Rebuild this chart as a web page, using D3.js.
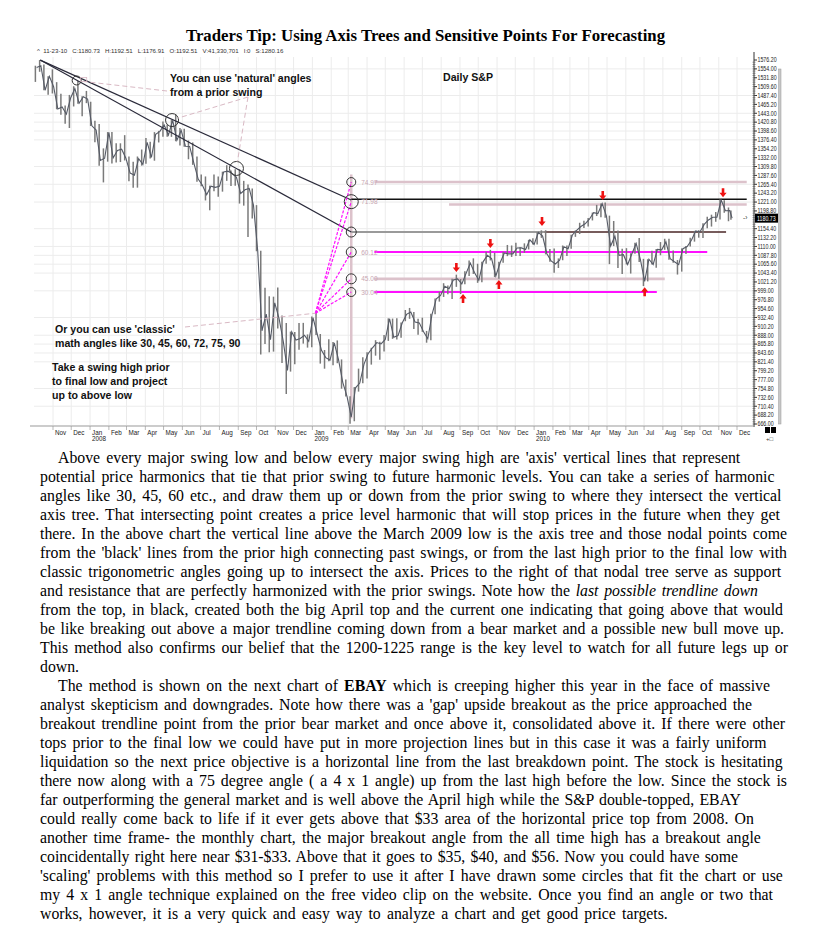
<!DOCTYPE html>
<html><head><meta charset="utf-8">
<script src="https://cdn.jsdelivr.net/npm/d3@7"></script>
<style>body{margin:0;background:#fff}</style>
</head><body><svg id="c" width="824" height="937"></svg>
<script>
// ---------------- DATA ----------------
const titleText = "Traders Tip: Using Axis Trees and Sensitive Points For Forecasting";
const headerText = "11-23-10   C:1180.73   H:1192.51   L:1176.91   O:1192.51   V:41,330,701   I:0   S:1280.16";
const lastPriceLabel = "1180.73";
const lastPrice = 1180.73;

// weekly S&P 500 closes / highs / lows, Oct 2007 - Nov 23 2010
const closes = [
1557.6,1561.8,1500.6,1535.3,1509.7,1453.7,1458.7,1440.7,1481.1,1504.7,1468.0,1484.5,1478.5,
1411.6,1401.0,1325.2,1330.6,1395.4,1331.3,1350.0,1353.1,1330.6,1293.4,1288.1,1329.5,1315.2,
1370.4,1332.8,1390.3,1397.8,1413.9,1388.3,1425.4,1375.9,1400.4,1360.7,1360.0,1317.9,1278.4,
1262.9,1239.5,1260.7,1257.8,1260.3,1296.3,1298.2,1292.2,1282.8,1242.3,1251.7,1255.1,1213.3,
1099.2,899.2,940.6,876.8,968.8,931.0,873.3,800.0,896.2,876.1,879.7,887.9,872.8,
931.8,890.4,850.1,832.0,825.9,868.6,826.8,770.1,735.1,683.4,756.6,768.5,815.9,
842.5,856.6,869.6,866.2,877.5,929.2,882.9,887.0,919.1,940.1,946.2,921.2,918.9,
896.4,879.1,940.4,979.3,987.5,1010.5,1004.1,1026.1,1028.9,1016.4,1042.7,1068.3,1044.4,
1025.2,1071.5,1087.7,1079.6,1036.2,1069.3,1093.5,1091.4,1091.5,1106.0,1106.4,1102.5,1126.5,
1115.1,1145.0,1136.0,1091.8,1073.9,1066.2,1075.5,1109.2,1104.5,1138.7,1150.0,1159.9,1166.6,
1178.1,1194.4,1192.1,1217.3,1186.7,1110.9,1135.7,1087.7,1089.4,1064.9,1091.6,1117.5,1076.8,
1022.6,1078.0,1064.9,1102.7,1101.6,1121.6,1079.3,1071.7,1064.6,1104.5,1109.6,1125.6,1148.7,
1146.2,1165.2,1176.2,1183.1,1183.3,1225.9,1199.2,1199.7,1180.7];
const highs = [
1561.9,1576.1,1564.7,1535.5,1552.8,1520.8,1492.0,1462.2,1488.9,1510.6,1523.6,1485.4,1498.9,
1471.8,1424.0,1416.0,1355.2,1396.0,1396.0,1368.0,1367.9,1388.3,1335.1,1321.7,1334.9,1352.4,
1380.9,1372.0,1395.9,1399.0,1422.7,1415.0,1426.0,1440.2,1406.3,1404.0,1375.0,1370.0,1335.0,
1290.0,1285.0,1262.0,1290.0,1285.0,1297.0,1313.2,1300.0,1303.0,1303.0,1274.0,1265.0,1255.1,
1213.3,1099.2,1006.9,985.4,984.4,1007.5,937.0,918.6,897.0,896.2,918.8,918.9,890.0,
934.7,943.9,891.0,851.0,877.9,870.8,875.0,827.5,777.0,735.1,758.3,804.5,832.9,
845.6,856.6,875.6,871.8,888.7,930.2,929.6,930.2,920.0,951.0,956.2,946.2,929.0,
931.9,898.7,941.9,979.8,996.7,1018.0,1012.6,1029.0,1039.5,1028.5,1048.2,1074.8,1080.2,
1066.7,1071.5,1096.6,1101.4,1094.0,1071.5,1097.0,1113.7,1112.4,1119.1,1107.7,1117.7,1126.5,
1130.4,1145.4,1150.4,1150.5,1103.7,1104.7,1080.0,1112.4,1112.4,1139.0,1150.0,1169.2,1174.3,
1181.4,1194.7,1213.9,1217.3,1219.8,1187.0,1173.6,1150.0,1104.0,1105.7,1093.0,1119.3,1131.2,
1079.0,1078.0,1099.1,1103.7,1120.9,1129.2,1129.2,1100.1,1076.0,1105.1,1110.9,1131.5,1148.9,
1150.6,1167.7,1184.4,1189.4,1196.1,1227.1,1225.8,1207.4,1199.7];
const lows = [
1521.4,1546.7,1500.3,1489.6,1492.5,1453.0,1439.0,1416.9,1406.1,1460.0,1467.0,1435.7,1468.3,
1411.2,1370.6,1312.0,1270.1,1322.0,1317.5,1320.0,1321.0,1325.0,1272.7,1256.9,1257.0,1312.0,
1316.5,1330.0,1324.4,1370.0,1384.5,1384.0,1384.0,1373.1,1362.5,1359.0,1328.0,1314.0,1272.0,
1260.7,1225.0,1200.4,1248.0,1234.4,1247.0,1274.0,1261.0,1262.0,1217.2,1212.0,1133.5,1180.0,
1098.0,839.8,865.8,845.3,847.0,904.9,818.7,741.0,797.0,815.7,851.4,867.0,857.0,
857.7,888.3,817.0,804.3,822.7,812.9,818.0,754.3,734.5,666.8,672.9,747.0,767.8,
779.8,814.5,836.9,826.8,847.1,873.8,878.9,877.0,881.5,923.0,929.0,903.8,888.9,
896.4,869.3,875.3,940.4,972.0,983.7,990.2,978.5,1008.9,991.0,1015.5,1036.0,1041.2,
1019.0,1020.2,1066.7,1075.0,1033.4,1029.4,1069.3,1085.7,1083.7,1086.3,1085.9,1093.9,1102.5,
1115.1,1115.1,1131.4,1090.2,1071.6,1044.5,1056.1,1075.5,1086.0,1104.5,1134.0,1141.0,1156.0,
1160.0,1175.0,1186.0,1183.0,1181.6,1065.8,1110.9,1055.9,1040.8,1064.9,1042.2,1091.6,1071.0,
1010.9,1022.6,1064.9,1056.9,1088.0,1101.6,1076.6,1069.1,1039.7,1047.0,1091.2,1110.0,1122.0,
1131.9,1131.0,1155.7,1159.7,1171.7,1177.6,1194.1,1173.0,1177.0];

const priceTicks = ["1576.20","1554.00","1531.80","1509.60","1487.40","1465.20","1443.00","1420.80","1398.60",
"1376.40","1354.20","1332.00","1309.80","1287.60","1265.40","1243.20","1221.00","1198.80","1154.40","1132.20",
"1110.00","1087.80","1065.60","1043.40","1021.20","999.00","976.80","954.60","932.40","910.20","888.00","865.80",
"843.60","821.40","799.20","777.00","754.80","732.60","710.40","688.20","666.00"];
const gridPrices = [1554,1487.4,1443,1420.8,1398.6,1376.4,1309.8,1265.4,1221,1154.4,1110,1087.8,1065.6,1043.4,999,932.4,888,865.8,843.6,821.4,754.8,710.4];

const monthLabels = ["Nov","Dec","Jan","Feb","Mar","Apr","May","Jun","Jul","Aug","Sep","Oct","Nov","Dec",
"Jan","Feb","Mar","Apr","May","Jun","Jul","Aug","Sep","Oct","Nov","Dec",
"Jan","Feb","Mar","Apr","May","Jun","Jul","Aug","Sep","Oct","Nov","Dec"];
const yearLabels = {2:"2008",14:"2009",26:"2010"};

// axis tree & trendlines (date, price)
const axisDate = "2009-03-06";
const axisTop = 1290, axisBottom = 680;
const trendStart = {d:"2007-10-11", p:1576};
const trendEnds = [1226, 1146];
const trendCircles = [{d:"2007-12-10",p:1525,r:4.5},{d:"2008-05-15",p:1426,r:6.5},{d:"2008-08-29",p:1305,r:7}];
// nodal points on axis tree
const nodes = [
  {p:1271, label:"74.97", r:4.5, fan:true},
  {p:1222, label:"71.98", r:7,   fan:true},
  {p:1146, label:"",      r:5,   fan:false},
  {p:1096, label:"60.12", r:5,   fan:true},
  {p:1029, label:"45.00", r:5,   fan:true},
  {p:996,  label:"30.04", r:4.5, fan:true}];
const fanOrigin = {d:"2009-01-06", p:943};
// horizontal harmonic levels
const levels = [
  {p:1271, from:"2009-04-13", to:"2010-12-17", kind:"pink"},
  {p:1228, from:"2009-03-06", to:"2010-12-17", kind:"black"},
  {p:1215, from:"2009-08-14", to:"2010-12-17", kind:"pink"},
  {p:1146, from:"2009-03-06", to:"2010-01-18", kind:"gray"},
  {p:1146, from:"2010-01-18", to:"2010-11-13", kind:"brown"},
  {p:1096, from:"2009-04-13", to:"2010-10-13", kind:"magenta"},
  {p:1029, from:"2009-04-13", to:"2010-08-04", kind:"pink"},
  {p:996,  from:"2009-04-13", to:"2010-07-22", kind:"magenta"}];
const downArrows = [{d:"2009-08-26",p:1056},{d:"2009-10-21",p:1116},{d:"2010-01-14",p:1171},{d:"2010-04-24",p:1236},{d:"2010-11-08",p:1243}];
const upArrows = [{d:"2009-09-06",p:981},{d:"2009-11-04",p:1016},{d:"2010-07-02",p:998}];

const notes = [
  {t:"You can use 'natural' angles", x:170, y:82},
  {t:"from a prior swing", x:170, y:96},
  {t:"Daily S&P", x:443, y:81},
  {t:"Or you can use 'classic'", x:55, y:333},
  {t:"math angles like 30, 45, 60, 72, 75, 90", x:55, y:347},
  {t:"Take a swing high prior", x:52, y:371},
  {t:"to final low and project", x:52, y:385},
  {t:"up to above low", x:52, y:399}];

const bodyLines = [
"Above every major swing low and below every major swing high are 'axis' vertical lines that represent",
"potential price harmonics that tie that prior swing to future harmonic levels. You can take a series of harmonic",
"angles like 30, 45, 60 etc., and draw them up or down from the prior swing to where they intersect the vertical",
"axis tree. That intersecting point creates a price level harmonic that will stop prices in the future when they get",
"there. In the above chart the vertical line above the March 2009 low is the axis tree and those nodal points come",
"from the 'black' lines from the prior high connecting past swings, or from the last high prior to the final low with",
"classic trigonometric angles going up to intersect the axis. Prices to the right of that nodal tree serve as support",
"and resistance that are perfectly harmonized with the prior swings. Note how the *last possible trendline down*",
"from the top, in black, created both the big April top and the current one indicating that going above that would",
"be like breaking out above a major trendline coming down from a bear market and a possible new bull move up.",
"This method also confirms our belief that the 1200-1225 range is the key level to watch for all future legs up or",
"down.",
"The method is shown on the next chart of **EBAY** which is creeping higher this year in the face of massive",
"analyst skepticism and downgrades. Note how there was a 'gap' upside breakout as the price approached the",
"breakout trendline point from the prior bear market and once above it, consolidated above it. If there were other",
"tops prior to the final low we could have put in more projection lines but in this case it was a fairly uniform",
"liquidation so the next price objective is a horizontal line from the last breakdown point. The stock is hesitating",
"there now along with a 75 degree angle ( a 4 x 1 angle) up from the last high before the low. Since the stock is",
"far outperforming the general market and is well above the April high while the S&P double-topped, EBAY",
"could really come back to life if it ever gets above that $33 area of the horizontal price top from 2008. On",
"another time frame- the monthly chart, the major breakout angle from the all time high has a breakout angle",
"coincidentally right here near $31-$33. Above that it goes to $35, $40, and $56. Now you could have some",
"'scaling' problems with this method so I prefer to use it after I have drawn some circles that fit the chart or use",
"my 4 x 1 angle technique explained on the free video clip on the website. Once you find an angle or two that",
"works, however, it is a very quick and easy way to analyze a chart and get good price targets."];
const paraStarts = [0, 12];
// right edge of each typeset line (layout)
const lineEnds = [759,787,787,781,787,787,783,758,783,784,788,0,771,752,787,767,786,787,741,784,761,738,792,773,737];

// ---------------- DRAW ----------------
const svg = d3.select("#c");
svg.append("rect").attr("width",824).attr("height",937).attr("fill","#fff");
const pd = d3.timeParse("%Y-%m-%d");
const x = d3.scaleTime().domain([new Date(2007,10,1), new Date(2010,11,1)]).range([53, 737]);
const y = d3.scaleLinear().domain([666, 1576.2]).range([424, 60]);
const SANS = "'Liberation Sans', Arial, sans-serif";
const SERIF = "'Liberation Serif', 'Times New Roman', serif";
const PL = 34, PR = 754, PT = 57, PB = 425;

// title
svg.append("text").attr("x",425.5).attr("y",41).attr("text-anchor","middle")
  .attr("font-family",SERIF).attr("font-weight","bold").attr("font-size",16.8).text(titleText);
// header
svg.append("text").attr("x",37).attr("y",53).attr("font-family",SANS).attr("font-size",6.1)
  .attr("fill","#333").attr("xml:space","preserve").text("^  " + headerText);

// grid
const g = svg.append("g");
const months = d3.timeMonth.range(new Date(2007,10,1), new Date(2011,0,1));
g.selectAll("line.vg").data(months).join("line")
  .attr("x1",d=>x(d)).attr("x2",d=>x(d)).attr("y1",PT).attr("y2",PB)
  .attr("stroke","#ececec").attr("stroke-width",1);
g.selectAll("line.hg").data(gridPrices).join("line")
  .attr("x1",PL).attr("x2",PR).attr("y1",d=>y(d)).attr("y2",d=>y(d))
  .attr("stroke","#ececec").attr("stroke-width",1);

// axis tree vertical line
const ax = x(pd(axisDate));
svg.append("line").attr("x1",ax).attr("x2",ax).attr("y1",y(axisTop)).attr("y2",y(axisBottom))
  .attr("stroke","#dcc2cb").attr("stroke-width",2.5);

// horizontal levels
const lvStyle = {pink:["#dcc2cb",2.6], black:["#111",1.6], gray:["#9a9a9a",2], brown:["#4a2626",1.6], magenta:["#ff10ff",2]};
svg.selectAll("line.lv").data(levels).join("line")
  .attr("x1",d=>x(pd(d.from))).attr("x2",d=>x(pd(d.to)))
  .attr("y1",d=>y(d.p)).attr("y2",d=>y(d.p))
  .attr("stroke",d=>lvStyle[d.kind][0]).attr("stroke-width",d=>lvStyle[d.kind][1]);

// price bars
const weekEnd = d3.timeFriday.range(new Date(2007,9,5), new Date(2010,10,27));
weekEnd[weekEnd.length-1] = new Date(2010,10,23);
const n = Math.min(weekEnd.length, closes.length);
const wk = d3.range(n).map(i=>({d:weekEnd[i], c:closes[i], h:highs[i], l:lows[i]}));
svg.append("g").selectAll("line").data(wk).join("line")
  .attr("x1",d=>x(d3.timeDay.offset(d.d,-2))).attr("x2",d=>x(d3.timeDay.offset(d.d,-2)))
  .attr("y1",d=>y(d.h)).attr("y2",d=>y(d.l))
  .attr("stroke","#7a7a7a").attr("stroke-width",1.5);
svg.append("path").datum(wk)
  .attr("d", d3.line().x(d=>x(d.d)).y(d=>y(d.c)))
  .attr("fill","none").attr("stroke","#555a66").attr("stroke-width",1.1);

// trendlines
const ts = {x:x(pd(trendStart.d)), y:y(trendStart.p)};
svg.selectAll("line.tl").data(trendEnds).join("line")
  .attr("x1",ts.x).attr("y1",ts.y).attr("x2",ax).attr("y2",d=>y(d))
  .attr("stroke","#2a2a3a").attr("stroke-width",1.2);
svg.selectAll("circle.tc").data(trendCircles).join("circle")
  .attr("cx",d=>x(pd(d.d))).attr("cy",d=>y(d.p)).attr("r",d=>d.r)
  .attr("fill","none").attr("stroke","#333").attr("stroke-width",1);

// fan lines
const fo = {x:x(pd(fanOrigin.d)), y:y(fanOrigin.p)};
svg.selectAll("line.fan").data(nodes.filter(d=>d.fan)).join("line")
  .attr("x1",fo.x).attr("y1",fo.y).attr("x2",ax).attr("y2",d=>y(d.p))
  .attr("stroke","#ff10ff").attr("stroke-width",1.2).attr("stroke-dasharray","3,1.5");

// nodes
svg.selectAll("circle.nd").data(nodes).join("circle")
  .attr("cx",ax).attr("cy",d=>y(d.p)).attr("r",d=>d.r)
  .attr("fill","none").attr("stroke","#333").attr("stroke-width",1);
svg.selectAll("text.nl").data(nodes.filter(d=>d.label)).join("text")
  .attr("x",ax+10).attr("y",d=>y(d.p)+2.5).attr("font-family",SANS).attr("font-size",6.5)
  .attr("fill","#c8a6b2").text(d=>d.label);

// leader lines (pink dashed)
const tc = trendCircles.map(d=>({x:x(pd(d.d)), y:y(d.p)}));
const leaders = [
  [[167,91],[tc[0].x+7,tc[0].y+1]],
  [[248,97],[tc[1].x+6,tc[1].y-2]],
  [[248,97],[tc[2].x+1,tc[2].y-7]],
  [[185,327],[fo.x,fo.y]]];
svg.selectAll("line.ld").data(leaders).join("line")
  .attr("x1",d=>d[0][0]).attr("y1",d=>d[0][1]).attr("x2",d=>d[1][0]).attr("y2",d=>d[1][1])
  .attr("stroke","#d9b9c4").attr("stroke-width",1).attr("stroke-dasharray","5,3");
svg.append("rect").attr("x",tc[0].x+4).attr("y",tc[0].y-3).attr("width",6).attr("height",4)
  .attr("fill","none").attr("stroke","#d9b9c4").attr("stroke-width",0.8);

// arrows
function arrow(cx, cy, dir){
  return `M${cx-1.3},${cy-5*dir}L${cx+1.3},${cy-5*dir}L${cx+1.3},${cy-0.5*dir}L${cx+3.6},${cy-0.5*dir}L${cx},${cy+4*dir}L${cx-3.6},${cy-0.5*dir}L${cx-1.3},${cy-0.5*dir}Z`;
}
svg.selectAll("path.da").data(downArrows).join("path")
  .attr("d",d=>arrow(x(pd(d.d)), y(d.p), 1)).attr("fill","#ee1111");
svg.selectAll("path.ua").data(upArrows).join("path")
  .attr("d",d=>arrow(x(pd(d.d)), y(d.p), -1)).attr("fill","#ee1111");

// notes
svg.selectAll("text.note").data(notes).join("text")
  .attr("x",d=>d.x).attr("y",d=>d.y).attr("font-family",SANS).attr("font-weight","bold")
  .attr("font-size",10.6).attr("fill","#111").text(d=>d.t);

// right axis
svg.append("line").attr("x1",PR).attr("x2",PR).attr("y1",52).attr("y2",PB+2).attr("stroke","#333").attr("stroke-width",1);
const tickVals = priceTicks.map(Number);
svg.selectAll("line.mt").data(tickVals).join("line")
  .attr("x1",PR).attr("x2",PR+3).attr("y1",d=>y(d)).attr("y2",d=>y(d)).attr("stroke","#333");
const minor = d3.range(666, 1576.2, 22.2/4);
svg.selectAll("line.mn").data(minor).join("line")
  .attr("x1",PR-1.5).attr("x2",PR+1.5).attr("y1",d=>y(d)).attr("y2",d=>y(d)).attr("stroke","#555").attr("stroke-width",0.6);
svg.selectAll("text.pt").data(priceTicks.filter(t=>Math.abs(+t-lastPrice)>12)).join("text")
  .attr("transform",d=>`translate(${PR+3.5},${y(+d)+2.3}) scale(0.8,1)`)
  .attr("font-family",SANS).attr("font-size",6.6)
  .attr("fill","#222").text(d=>d);
svg.append("rect").attr("x",PR+1).attr("y",y(lastPrice)-4.5).attr("width",23).attr("height",9).attr("fill","#000");
svg.append("text").attr("transform",`translate(${PR+3},${y(lastPrice)+2.4}) scale(0.8,1)`)
  .attr("font-family",SANS).attr("font-size",6.6).attr("fill","#fff").text(lastPriceLabel);
svg.append("text").attr("x",PR-11).attr("y",y(lastPrice)+2).attr("font-family",SANS).attr("font-size",6.5)
  .attr("fill","#333").text("-›");
// scrollbar
svg.append("rect").attr("x",778.5).attr("y",69).attr("width",2.5).attr("height",355).attr("fill","#c8c8c8").attr("stroke","#999").attr("stroke-width",0.5);
svg.append("rect").attr("x",765).attr("y",427).attr("width",5).attr("height",6).attr("fill","#000");
svg.append("rect").attr("x",771).attr("y",427).attr("width",5).attr("height",6).attr("fill","#000");
svg.append("text").attr("x",766).attr("y",441).attr("font-family",SANS).attr("font-size",6).attr("fill","#333").text("+□");

// x axis
svg.append("line").attr("x1",30).attr("x2",PR).attr("y1",PB+1).attr("y2",PB+1).attr("stroke","#999");
svg.selectAll("line.xt").data(months).join("line")
  .attr("x1",d=>x(d)).attr("x2",d=>x(d)).attr("y1",PB+1).attr("y2",PB+5).attr("stroke","#999").attr("stroke-width",0.7);
svg.selectAll("text.ml").data(months.slice(0, monthLabels.length)).join("text")
  .attr("x",d=>x(d)+2).attr("y",PB+10).attr("font-family",SANS).attr("font-size",6.3).attr("fill","#222")
  .text((d,i)=>monthLabels[i]);
svg.selectAll("text.yl").data(Object.keys(yearLabels)).join("text")
  .attr("x",d=>x(months[+d])+2).attr("y",PB+15.5).attr("font-family",SANS).attr("font-size",6.3).attr("fill","#222")
  .text(d=>yearLabels[d]);

// body text
const body = svg.append("g").attr("font-family",SERIF).attr("font-size",15.8).attr("fill","#000");
bodyLines.forEach((line,i)=>{
  const x0 = paraStarts.includes(i) ? 58 : 40;
  const t = body.append("text").attr("x", x0).attr("y", 463 + i*19);
  line.split(/(\*\*[^*]+\*\*|\*[^*]+\*)/).filter(s=>s.length).forEach(seg=>{
    const sp = t.append("tspan");
    if (seg.startsWith("**")) sp.attr("font-weight","bold").text(seg.slice(2,-2));
    else if (seg.startsWith("*")) sp.attr("font-style","italic").text(seg.slice(1,-1));
    else sp.text(seg);
  });
  const spaces = (line.match(/ /g) || []).length;
  const target = lineEnds[i];
  if (target && spaces) {
    const natural = t.node().getComputedTextLength();
    const ws = Math.max(-1, Math.min(2.2, (target - x0 - natural) / spaces));
    t.attr("word-spacing", ws);
  }
});
</script></body></html>
